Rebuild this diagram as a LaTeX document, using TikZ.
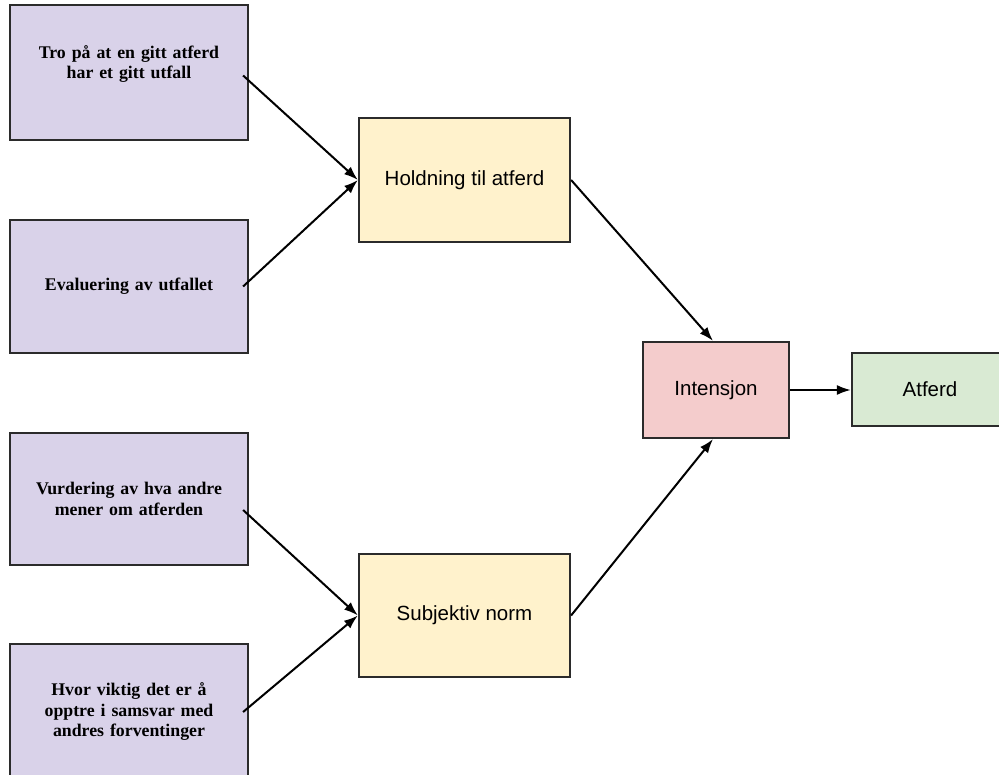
\documentclass[tikz,border=0pt]{standalone}
\usepackage{fontspec}
\setmainfont{Liberation Serif}
\setsansfont{Liberation Sans}
\usetikzlibrary{calc,arrows.meta}

\definecolor{lilla}{HTML}{D9D2E9}
\definecolor{gul}{HTML}{FFF2CC}
\definecolor{rosa}{HTML}{F4CCCC}
\definecolor{gronn}{HTML}{D9EAD3}
\definecolor{kant}{HTML}{2B2B2B}

\begin{document}
\begin{tikzpicture}[x=1pt,y=-1pt]
  % Stiler for boksene og pilene
    \tikzstyle{kildeboks} = [draw=kant, line width=2.2pt, fill=lilla, inner sep=0pt, align=center, text width=220pt, minimum width=238pt, font=\fontsize{17.8}{20.5}\selectfont\bfseries];
  \tikzstyle{midtboks} = [draw=kant, line width=2.2pt, inner sep=0pt, align=center, font=\sffamily\fontsize{20.5}{24}\selectfont];
  \tikzstyle{pil} = [line width=2pt, -{Latex[length=14pt,width=10pt]}];

  % Rammen for bildet
    \clip (0,0) rectangle (999,775);
  \fill[white] (0,0) rectangle (999,775);

  % De fire boksene til venstre
    \node [kildeboks, minimum height=135pt] (tro) at (129,72.5) {Tro på at en gitt atferd\\har et gitt utfall\\ \mbox{}};
  \node [kildeboks, minimum height=133pt] (eval) at (129,286.5) {Evaluering av utfallet};
  \node [kildeboks, minimum height=132pt] (vurd) at (129,499) {Vurdering av hva andre\\mener om atferden};
  \node [kildeboks, minimum height=136pt] (viktig) at (129,712) {Hvor viktig det er å\\opptre i samsvar med\\andres forventinger};

  % Boksene i midten
    \node [midtboks, fill=gul, minimum width=211pt, minimum height=124pt] (hold) at (464.5,180) {Holdning til atferd};
  \node [midtboks, fill=gul, minimum width=211pt, minimum height=123pt] (norm) at (464.5,615.5) {Subjektiv norm};

  % Intensjon og atferd
    \node [midtboks, fill=rosa, minimum width=146pt, minimum height=96pt] (int) at (716,390) {Intensjon};
  \node [midtboks, fill=gronn, minimum width=156pt, minimum height=73pt] (atf) at (930,389.5) {Atferd};

  % Startpunkter for pilene inne i boksene
    \coordinate (s1) at ([xshift=-6pt,yshift=-3pt]tro.east);
  \coordinate (s2) at ([xshift=-6pt]eval.east);
  \coordinate (s3) at ([xshift=-6pt,yshift=-11pt]vurd.east);
  \coordinate (s4) at ([xshift=-6pt]viktig.east);

  % Pilene
    \draw [pil] (s1) -- (hold.west);
  \draw [pil] (s2) -- (hold.west);
  \draw [pil] (s3) -- (norm.west);
  \draw [pil] (s4) -- (norm.west);
  \draw [pil] (hold.east) -- ([xshift=-3pt]int.north);
  \draw [pil] (norm.east) -- ([xshift=-3pt]int.south);
  \draw [pil] (int.east) -- (int.east -| atf.west);
  \end{tikzpicture}
\end{document}
